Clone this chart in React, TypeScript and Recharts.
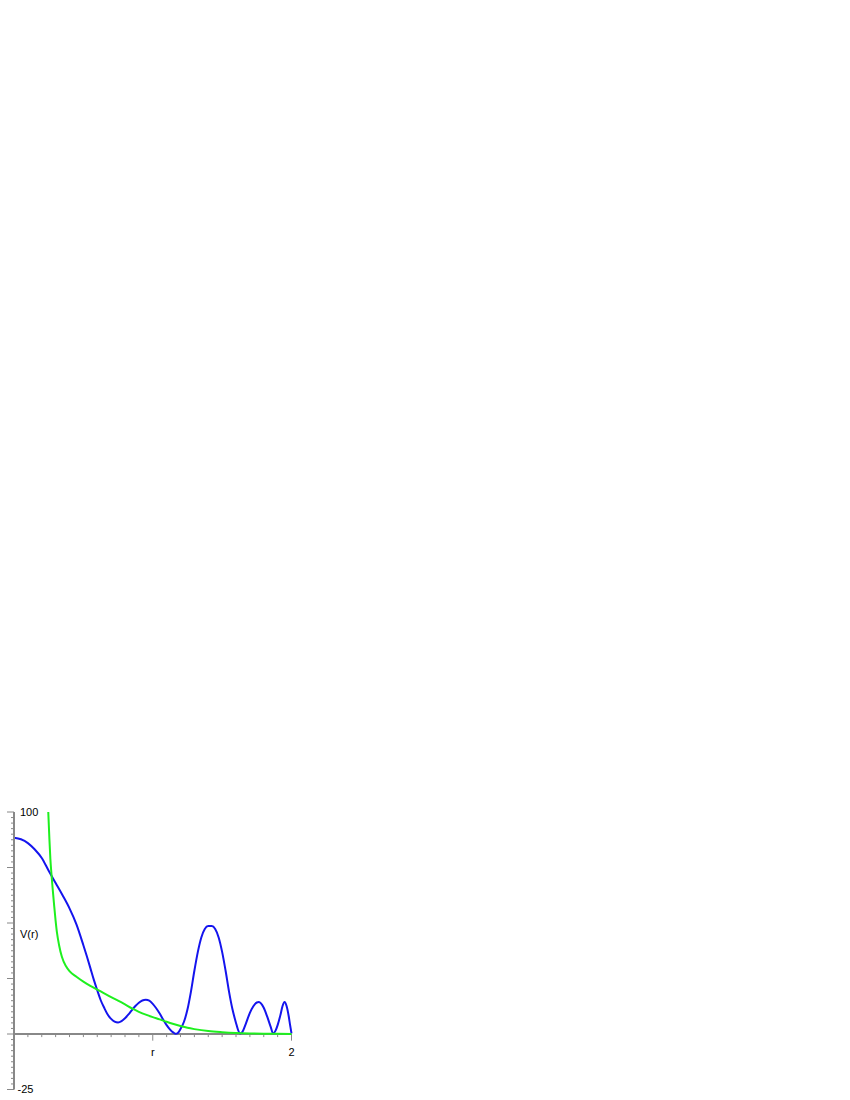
import { LineChart, Line, XAxis, YAxis, ReferenceLine, ReferenceDot } from 'recharts';

// blue curve, V(r)
const blueR = [
  0, 0.05, 0.1, 0.15, 0.2, 0.25, 0.3, 0.35, 0.4, 0.45, 0.5,
  0.525, 0.55, 0.575, 0.6, 0.625, 0.65, 0.675, 0.7, 0.725, 0.75, 0.775, 0.8, 0.825, 0.85, 0.875,
  0.9, 0.925, 0.95, 0.975, 1.0, 1.025, 1.05, 1.075, 1.1, 1.125, 1.15, 1.165, 1.18, 1.2, 1.225,
  1.25, 1.275, 1.3, 1.325, 1.35, 1.375, 1.4, 1.425, 1.45, 1.475, 1.5, 1.525, 1.55, 1.575, 1.6,
  1.615, 1.63, 1.645, 1.67, 1.7, 1.725, 1.75, 1.765, 1.78, 1.8, 1.825, 1.85, 1.868, 1.885, 1.9,
  1.92, 1.935, 1.95, 1.965, 1.98, 1.99, 2.0,
];
const blueV = [
  88.4, 87.7, 86.0, 83.1, 79.3, 73.5, 68, 62.5, 56.6, 49.4, 40,
  35, 29.8, 24.5, 19.7, 15.2, 11.8, 8.8, 6.8, 5.6, 5.2, 5.8, 7.1, 8.8, 10.8, 12.6,
  14.1, 15.1, 15.4, 15.0, 13.6, 11.6, 9.2, 6.5, 4.0, 2.0, 0.6, 0.1, 0.4, 2.2, 5.5,
  11, 19, 28.5, 37, 43.5, 47.3, 48.6, 48.6, 47.3, 43.5, 37, 28.5, 19, 11, 5,
  1.8, 0.2, 0.8, 4.5, 9.5, 12.5, 14.2, 14.4, 13.8, 11.8, 7.8, 3.2, 0.2, 1.5, 4,
  8.5, 12.5, 14.4, 12.5, 8, 4, 0.3,
];

// green curve
const greenR = [
  0.247, 0.255, 0.262, 0.27, 0.28, 0.29, 0.3, 0.31, 0.325, 0.345, 0.375, 0.4, 0.45, 0.5, 0.55,
  0.6, 0.65, 0.7, 0.75, 0.8, 0.85, 0.9, 0.95, 1.0, 1.05, 1.1, 1.15, 1.2, 1.25, 1.3, 1.4, 1.5,
  1.6, 1.7, 1.8, 1.9, 2.0,
];
const greenV = [
  100, 88, 79, 72, 64.5, 57.5, 51, 45.5, 40, 34.8, 30.5, 28.3, 25.8, 23.6, 21.7,
  20, 18.3, 16.6, 15, 13.3, 11.5, 10, 8.7, 7.6, 6.6, 5.5, 4.5, 3.6, 2.8, 2.2, 1.3, 0.8,
  0.45, 0.25, 0.12, 0.06, 0.02,
];

const yTicks = [
  -25, -22.5, -20, -17.5, -15, -12.5, -10, -7.5, -5, -2.5, 0, 2.5, 5, 7.5, 10, 12.5, 15, 17.5,
  20, 22.5, 25, 27.5, 30, 32.5, 35, 37.5, 40, 42.5, 45, 47.5, 50, 52.5, 55, 57.5, 60, 62.5, 65,
  67.5, 70, 72.5, 75, 77.5, 80, 82.5, 85, 87.5, 90, 92.5, 95, 97.5, 100,
];
const yMajor = [-25, 0, 25, 50, 75, 100];
const yLabelValues = [100, 45, -25];
const yLabelTexts = ['100', 'V(r)', '-25'];

const xTicks = [
  0, 0.1, 0.2, 0.3, 0.4, 0.5, 0.6, 0.7, 0.8, 0.9, 1, 1.1, 1.2, 1.3, 1.4, 1.5, 1.6, 1.7, 1.8, 1.9, 2,
];
const xMajor = [1, 2];
const xLabelValues = [1, 2];
const xLabelTexts = ['r', '2'];

const blueData = blueR.map((r, i) => ({ r, v: blueV[i] }));
const greenData = greenR.map((r, i) => ({ r, v: greenV[i] }));

const font = '"Liberation Sans", Arial, sans-serif';
const axisColor = '#888888';

function YTick(props: any) {
  const { x, y, payload } = props;
  const v = payload.value;
  const len = yMajor.includes(v) ? 7 : 3;
  const idx = yLabelValues.indexOf(v);
  return (
    <g>
      <line x1={x - len} x2={x} y1={y} y2={y} stroke={axisColor} strokeWidth={1} />
      {idx >= 0 && (
        <text x={x + (v < 0 ? 3.5 : 6)} y={y} dy="0.35em" fontSize={11} fill="#000" fontFamily={font}>
          {yLabelTexts[idx]}
        </text>
      )}
    </g>
  );
}

export default function App() {
  return (
    <div style={{ position: 'absolute', left: 0, top: 800 }}>
      <LineChart width={300} height={300} margin={{ top: 12, right: 8.5, bottom: 10.5, left: 0 }}>
        <XAxis type="number" dataKey="r" domain={[0, 2]} hide />
        <YAxis
          type="number"
          domain={[-25, 100]}
          ticks={yTicks}
          interval={0}
          width={14}
          tickSize={0}
          tickMargin={0}
          tickLine={false}
          tick={YTick}
          axisLine={{ stroke: axisColor, strokeWidth: 2 }}
        />
        <ReferenceLine y={0} stroke={axisColor} strokeWidth={2} />
        {xTicks.map((t) => (
          <ReferenceLine
            key={t}
            segment={[{ x: t, y: 0 }, { x: t, y: xMajor.includes(t) ? -3 : -1.4 }]}
            stroke={axisColor}
            strokeWidth={1}
          />
        ))}
        {xLabelValues.map((t, i) => (
          <ReferenceDot
            key={'l' + t}
            x={t}
            y={-8}
            r={0}
            fill="none"
            stroke="none"
            label={{ value: xLabelTexts[i], position: 'center', fontSize: 11, fill: '#000', fontFamily: font }}
          />
        ))}
        <Line
          data={blueData}
          dataKey="v"
          type="monotone"
          stroke="#1414ee"
          strokeWidth={2}
          dot={false}
          isAnimationActive={false}
        />
        <Line
          data={greenData}
          dataKey="v"
          type="monotone"
          stroke="#1ef01e"
          strokeWidth={2}
          dot={false}
          isAnimationActive={false}
        />
      </LineChart>
    </div>
  );
}
